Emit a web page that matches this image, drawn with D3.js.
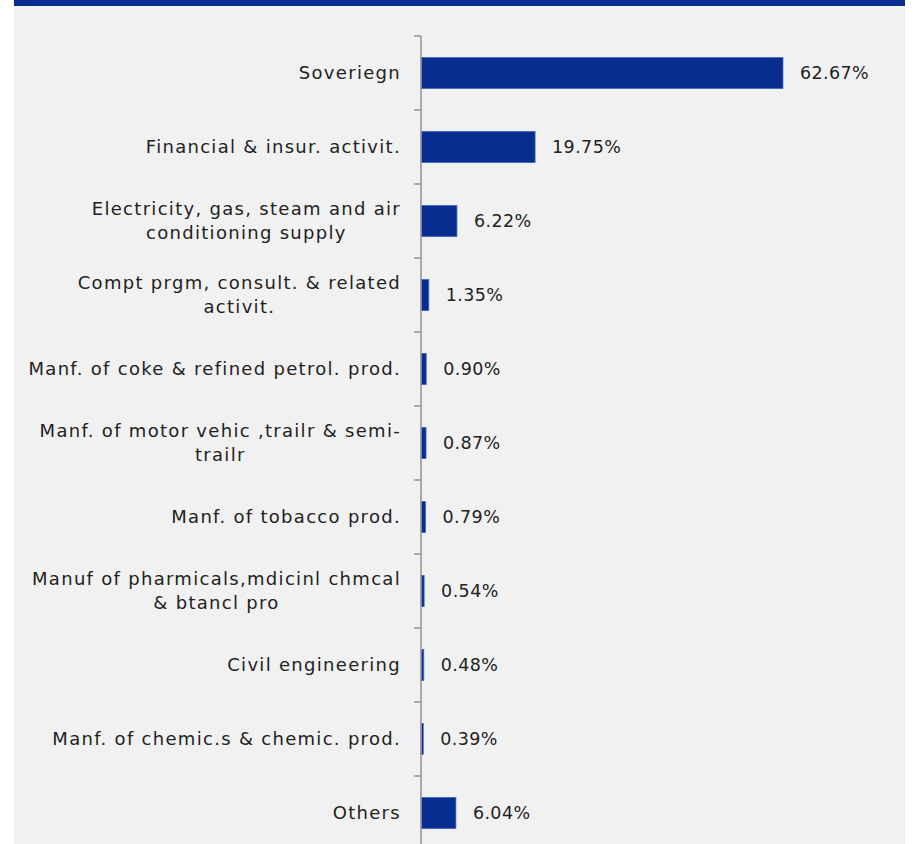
<!DOCTYPE html>
<html>
<head>
<meta charset="utf-8">
<script src="https://cdn.jsdelivr.net/npm/d3@7"></script>
<style>
  html, body { margin: 0; padding: 0; background: #ffffff; }
  svg { display: block; }
  text { font-family: "Century Gothic", "DejaVu Sans", sans-serif; fill: #222222; }
</style>
</head>
<body>
<svg id="chart" width="916" height="844"></svg>
<script>
// Sector breakdown, share of total (%)
const categories = [
  "Soveriegn",
  "Financial & insur. activit.",
  "Electricity, gas, steam and air\nconditioning supply",
  "Compt prgm, consult. & related\nactivit.",
  "Manf. of coke & refined petrol. prod.",
  "Manf. of motor vehic ,trailr & semi-\ntrailr",
  "Manf. of tobacco prod.",
  "Manuf of pharmicals,mdicinl chmcal\n& btancl pro",
  "Civil engineering",
  "Manf. of chemic.s & chemic. prod.",
  "Others"
];
const shares = [62.67, 19.75, 6.22, 1.35, 0.90, 0.87, 0.79, 0.54, 0.48, 0.39, 6.04];
const valueLabels = ["62.67%", "19.75%", "6.22%", "1.35%", "0.90%", "0.87%", "0.79%", "0.54%", "0.48%", "0.39%", "6.04%"];

const svg = d3.select("#chart");
const W = 916, H = 844;

// panel background and header strip
svg.append("rect").attr("x", 14).attr("y", 0).attr("width", 891).attr("height", H).attr("fill", "#f1f1f1");
svg.append("rect").attr("x", 14).attr("y", 0).attr("width", 891).attr("height", 6).attr("fill", "#062d8f");

const axisX = 421;
const y = d3.scaleBand()
  .domain(categories)
  .range([36, 36 + 74 * categories.length])
  .paddingInner(0.58)
  .paddingOuter(0.29);

const x = d3.scaleLinear().domain([0, 70]).range([axisX, axisX + 404.3]);

const g = svg.append("g");

// bars
g.selectAll("rect.bar")
  .data(categories)
  .join("rect")
  .attr("class", "bar")
  .attr("x", x(0))
  .attr("y", d => y(d))
  .attr("width", (d, i) => x(shares[i]) - x(0))
  .attr("height", y.bandwidth())
  .attr("fill", "#062d8f")
  .attr("stroke", "#3f66c2")
  .attr("stroke-width", 0.8);

// value labels
g.selectAll("text.val")
  .data(categories)
  .join("text")
  .attr("class", "val")
  .attr("x", (d, i) => x(shares[i]) + 17)
  .attr("y", d => y(d) + y.bandwidth() / 2)
  .attr("dy", "0.36em")
  .attr("font-size", 17.5)
  .attr("letter-spacing", 0.4)
  .text((d, i) => valueLabels[i]);

// category axis line and boundary ticks
const step = y.step();
const axisG = svg.append("g").attr("stroke", "#9a9a9a").attr("stroke-width", 1.6);
axisG.append("line").attr("x1", axisX).attr("x2", axisX).attr("y1", 36).attr("y2", H);
d3.range(categories.length + 1).forEach(k => {
  const ty = 36 + k * step;
  axisG.append("line").attr("x1", axisX - 7).attr("x2", axisX).attr("y1", ty).attr("y2", ty);
});

// category labels: block right-aligned, lines centred within the block
const labelRight = 401;
const lineH = 24;
categories.forEach((c, i) => {
  const lines = c.split("\n");
  const cy = y(c) + y.bandwidth() / 2;
  const t = svg.append("text")
    .attr("font-size", 18)
    .attr("letter-spacing", 1.3)
    .attr("text-anchor", "middle");
  const spans = lines.map((ln, j) =>
    t.append("tspan")
      .attr("y", cy + (j - (lines.length - 1) / 2) * lineH)
      .attr("dy", "0.36em")
      .text(ln));
  const maxW = d3.max(spans, s => s.node().getComputedTextLength());
  spans.forEach(s => s.attr("x", labelRight - maxW / 2));
});
</script>
</body>
</html>
